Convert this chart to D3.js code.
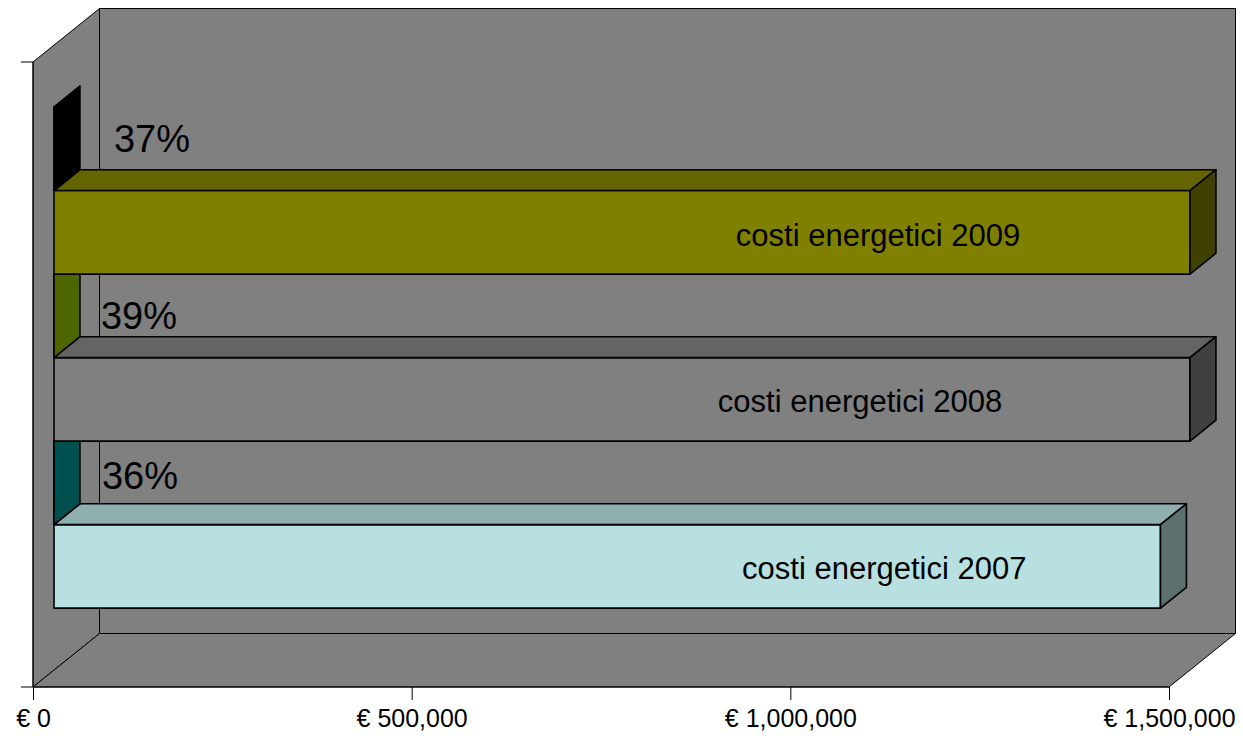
<!DOCTYPE html>
<html>
<head>
<meta charset="utf-8">
<script src="https://cdn.jsdelivr.net/npm/d3@7"></script>
<style>
  html, body { margin: 0; padding: 0; background: #ffffff; }
  svg { display: block; font-family: "Liberation Sans", Arial, sans-serif; }
</style>
</head>
<body>
<svg id="chart" width="1243" height="738"></svg>
<script>
// Categories, top to bottom as stacked on the chart
const years = ["2009", "2008", "2007"];
// Energy cost per year (euro)
const costValues = [1500000, 1500000, 1461000];
const costLabels = ["costi energetici 2009", "costi energetici 2008", "costi energetici 2007"];
// Share of energy costs (plotted on the same euro axis, so practically zero length)
const shareValues = [0.37, 0.39, 0.36];
// Value axis ticks
const tickValues = [0, 500000, 1000000, 1500000];

// Fill colours per point
const costColors = ["#808000", "#808080", "#b8e0e0"];
const shareColors = ["#000000", "#99cc00", "#00a0a0"];
const wallColor = "#808080";

// Hand-placed label offsets (dx, dy) as in the workbook layout
const shareLabelNudge = [[34, -10], [21, 0], [22, -7]];
const costLabelNudge = [[256, 3], [238, 2], [277, 2]];

const svg = d3.select("#chart");

// ---- 3D box geometry ----
const left = 33, right = 1169, floorY = 687, topY = 62;
const DX = 66.5, DY = -53.5;          // depth of the plot box
const barOffset = 0.316;              // bars start at this fraction of the depth
const barDepth = 0.39;                // bar thickness as fraction of the depth
const ox = DX * barOffset, oy = DY * barOffset;
const bx = DX * barDepth, by = DY * barDepth;

const x = d3.scaleLinear().domain([0, 1500000]).range([left, right]);
// Scale in the plane where the bars sit
const xb = d3.scaleLinear().domain([0, 1500000]).range([left + ox, right + ox]);

const yCat = d3.scaleBand().domain(years)
  .range([topY + oy, floorY + oy]).paddingInner(0).paddingOuter(0.371);
const ySeries = d3.scaleBand().domain(["share", "cost"]).range([0, yCat.bandwidth()]);

const pts = p => p.map(d => d.join(",")).join(" ");

// Back wall
svg.append("polygon")
  .attr("points", pts([[left + DX, topY + DY], [right + DX, topY + DY], [right + DX, floorY + DY], [left + DX, floorY + DY]]))
  .attr("fill", wallColor).attr("stroke", "#000").attr("stroke-width", 1);
// Side wall
svg.append("polygon")
  .attr("points", pts([[left, topY], [left + DX, topY + DY], [left + DX, floorY + DY], [left, floorY]]))
  .attr("fill", wallColor).attr("stroke", "#000").attr("stroke-width", 1);
// Floor
svg.append("polygon")
  .attr("points", pts([[left, floorY], [left + DX, floorY + DY], [right + DX, floorY + DY], [right, floorY]]))
  .attr("fill", wallColor).attr("stroke", "#000").attr("stroke-width", 1);

// Value axis along the front floor edge
const axis = d3.axisBottom(x).tickValues(tickValues).tickSize(13).tickPadding(9)
  .tickFormat(d => "€ " + d3.format(",")(d));
const gx = svg.append("g").attr("transform", `translate(0,${floorY})`).call(axis);
gx.select(".domain").remove();
gx.selectAll(".tick line").attr("stroke", "#000").attr("stroke-width", 1);
gx.selectAll(".tick text").attr("font-size", 25).attr("fill", "#000")
  .attr("font-family", "'Liberation Sans', Arial, sans-serif");
svg.append("line").attr("x1", left - 12).attr("x2", right).attr("y1", floorY).attr("y2", floorY)
  .attr("stroke", "#000").attr("stroke-width", 1);
// Category axis along the front edge of the side wall
svg.append("line").attr("x1", left).attr("x2", left).attr("y1", topY).attr("y2", floorY)
  .attr("stroke", "#000").attr("stroke-width", 1);
svg.append("line").attr("x1", left - 12).attr("x2", left).attr("y1", topY).attr("y2", topY)
  .attr("stroke", "#000").attr("stroke-width", 1);

// ---- Bars ----
function shade(c, k) {
  const r = d3.rgb(c);
  return d3.rgb(r.r * k, r.g * k, r.b * k).formatHex();
}
function drawBar(g, x0, x1, y0, y1, color) {
  const sw = 1.6;
  // front face
  g.append("polygon").attr("points", pts([[x0, y0], [x1, y0], [x1, y1], [x0, y1]]))
    .attr("fill", color).attr("stroke", "#000").attr("stroke-width", sw).attr("stroke-linejoin", "round");
  // top face
  g.append("polygon").attr("points", pts([[x0, y0], [x0 + bx, y0 + by], [x1 + bx, y0 + by], [x1, y0]]))
    .attr("fill", shade(color, 0.78)).attr("stroke", "#000").attr("stroke-width", sw).attr("stroke-linejoin", "round");
  // end face
  g.append("polygon").attr("points", pts([[x1, y0], [x1 + bx, y0 + by], [x1 + bx, y1 + by], [x1, y1]]))
    .attr("fill", shade(color, 0.5)).attr("stroke", "#000").attr("stroke-width", sw).attr("stroke-linejoin", "round");
}

const barsG = svg.append("g");
// Paint from the bottom up so that upper bars cover the back of lower ones
const order = d3.range(years.length).reverse();
order.forEach(i => {
  const yr = years[i];
  const yc = yCat(yr) + ySeries("cost");
  drawBar(barsG, xb(0), xb(costValues[i]), yc, yc + ySeries.bandwidth(), costColors[i]);
  const ys = yCat(yr) + ySeries("share");
  drawBar(barsG, xb(0), xb(shareValues[i]), ys, ys + ySeries.bandwidth(), shareColors[i]);
});

// ---- Data labels ----
const labelsG = svg.append("g").attr("fill", "#000");
years.forEach((yr, i) => {
  const ys = yCat(yr) + ySeries("share");
  labelsG.append("text")
    .attr("x", xb(shareValues[i]) + bx + shareLabelNudge[i][0])
    .attr("y", ys + ySeries.bandwidth() / 2 + shareLabelNudge[i][1])
    .attr("dy", "0.35em")
    .attr("font-size", 38)
    .text(d3.format(".0%")(shareValues[i]));

  const yc = yCat(yr) + ySeries("cost");
  labelsG.append("text")
    .attr("x", (xb(0) + xb(costValues[i])) / 2 + costLabelNudge[i][0])
    .attr("y", yc + ySeries.bandwidth() / 2 + costLabelNudge[i][1])
    .attr("dy", "0.35em")
    .attr("text-anchor", "middle")
    .attr("font-size", 31)
    .text(costLabels[i]);
});
</script>
</body>
</html>
